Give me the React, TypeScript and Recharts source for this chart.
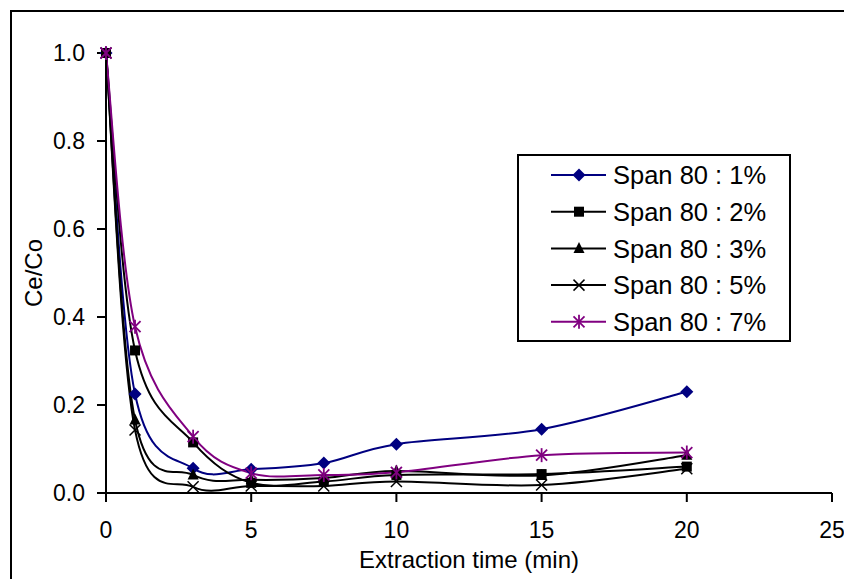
import React from 'react';
import { LineChart, Line, XAxis, YAxis, Label } from 'recharts';

// extraction times (min) and Ce/Co
const times = [0, 1, 3, 5, 7.5, 10, 15, 20];
const span1 = [1.0, 0.225, 0.056, 0.054, 0.068, 0.111, 0.145, 0.23];
const span2 = [1.0, 0.324, 0.115, 0.023, 0.026, 0.041, 0.043, 0.06];
const span3 = [1.0, 0.166, 0.041, 0.03, 0.034, 0.05, 0.04, 0.086];
const span5 = [1.0, 0.143, 0.014, 0.016, 0.016, 0.026, 0.018, 0.055];
const span7 = [1.0, 0.378, 0.128, 0.045, 0.041, 0.047, 0.086, 0.092];

const seriesNames = ['Span 80 : 1%', 'Span 80 : 2%', 'Span 80 : 3%', 'Span 80 : 5%', 'Span 80 : 7%'];
const xTicks = [0, 5, 10, 15, 20, 25];
const yTicks = [0, 0.2, 0.4, 0.6, 0.8, 1.0];

const data = times.map((t, i) => ({
  t,
  s1: span1[i],
  s2: span2[i],
  s3: span3[i],
  s5: span5[i],
  s7: span7[i],
}));

const series = [
  { key: 's1', name: seriesNames[0], color: '#000080', marker: 'diamond' },
  { key: 's2', name: seriesNames[1], color: '#000000', marker: 'square' },
  { key: 's3', name: seriesNames[2], color: '#000000', marker: 'triangle' },
  { key: 's5', name: seriesNames[3], color: '#000000', marker: 'cross' },
  { key: 's7', name: seriesNames[4], color: '#800080', marker: 'star' },
];

const FONT = '"Liberation Sans", Arial, sans-serif';

// Excel-like smoothed line (Catmull-Rom through the points)
function excelSmooth(context: any) {
  let pts: number[][] = [];
  return {
    areaStart() {},
    areaEnd() {},
    lineStart() {
      pts = [];
    },
    point(x: number, y: number) {
      pts.push([+x, +y]);
    },
    lineEnd() {
      const n = pts.length;
      if (!n) return;
      context.moveTo(pts[0][0], pts[0][1]);
      for (let i = 0; i < n - 1; i++) {
        const p0 = pts[Math.max(i - 1, 0)];
        const p1 = pts[i];
        const p2 = pts[i + 1];
        const p3 = pts[Math.min(i + 2, n - 1)];
        context.bezierCurveTo(
          p1[0] + (p2[0] - p0[0]) / 6,
          p1[1] + (p2[1] - p0[1]) / 6,
          p2[0] - (p3[0] - p1[0]) / 6,
          p2[1] - (p3[1] - p1[1]) / 6,
          p2[0],
          p2[1]
        );
      }
    },
  };
}

function Marker({ kind, cx, cy, color }: { kind: string; cx: number; cy: number; color: string }) {
  if (kind === 'diamond') {
    const r = 6.5;
    return <polygon points={`${cx},${cy - r} ${cx + r},${cy} ${cx},${cy + r} ${cx - r},${cy}`} fill={color} />;
  }
  if (kind === 'square') {
    return <rect x={cx - 5} y={cy - 5} width={10} height={10} fill={color} />;
  }
  if (kind === 'triangle') {
    return <polygon points={`${cx},${cy - 6.5} ${cx + 5.5},${cy + 4.5} ${cx - 5.5},${cy + 4.5}`} fill={color} />;
  }
  if (kind === 'cross') {
    const r = 5.5;
    return (
      <g stroke={color} strokeWidth={1.5}>
        <line x1={cx - r} y1={cy - r} x2={cx + r} y2={cy + r} />
        <line x1={cx - r} y1={cy + r} x2={cx + r} y2={cy - r} />
      </g>
    );
  }
  const r = 5.5;
  return (
    <g stroke={color} strokeWidth={1.8}>
      <line x1={cx - r} y1={cy - r} x2={cx + r} y2={cy + r} />
      <line x1={cx - r} y1={cy + r} x2={cx + r} y2={cy - r} />
      <line x1={cx} y1={cy - 7} x2={cx} y2={cy + 7} />
    </g>
  );
}

function LegendBox() {
  return (
    <svg width={274} height={188} style={{ position: 'absolute', left: 517, top: 154 }}>
      <rect x={1} y={1} width={272} height={186} fill="#fff" stroke="#000" strokeWidth={2} />
      {series.map((s, i) => {
        const y = 21 + i * 36.7;
        return (
          <g key={s.key}>
            <line x1={34} y1={y} x2={89} y2={y} stroke={s.color} strokeWidth={2} />
            <Marker kind={s.marker} cx={62} cy={y} color={s.color} />
            <text x={96} y={y} dy="0.36em" fontSize={25.5} fontFamily={FONT} fill="#000">
              {s.name}
            </text>
          </g>
        );
      })}
    </svg>
  );
}

export default function App() {
  const tickStyle = { fill: '#000', fontSize: 23, fontFamily: FONT };
  return (
    <div
      style={{
        position: 'fixed',
        left: 0,
        top: 0,
        width: 844,
        height: 579,
        overflow: 'hidden',
        background: '#fff',
      }}
    >
      <div
        style={{
          position: 'absolute',
          left: 10,
          top: 10,
          width: 1000,
          height: 1000,
          border: '2px solid #000',
        }}
      />
      <div style={{ position: 'absolute', left: 0, top: 0 }}>
        <LineChart width={844} height={579} data={data} margin={{ top: 53, right: 12, bottom: 0, left: 0 }}>
          <XAxis
            dataKey="t"
            type="number"
            domain={[0, 25]}
            ticks={xTicks}
            height={86}
            tick={tickStyle}
            tickSize={9}
            tickMargin={20}
            axisLine={{ stroke: '#000', strokeWidth: 2 }}
            tickLine={{ stroke: '#000', strokeWidth: 2 }}
          >
            <Label
              value="Extraction time (min)"
              position="insideBottom"
              offset={11}
              style={{ fill: '#000', fontSize: 24, fontFamily: FONT }}
            />
          </XAxis>
          <YAxis
            type="number"
            domain={[0, 1]}
            ticks={yTicks}
            width={106}
            tick={tickStyle}
            tickSize={9}
            tickMargin={12}
            tickFormatter={(v: number) => v.toFixed(1)}
            axisLine={{ stroke: '#000', strokeWidth: 2 }}
            tickLine={{ stroke: '#000', strokeWidth: 2 }}
          >
            <Label
              content={() => (
                <text
                  x={42}
                  y={273}
                  transform="rotate(-90 42 273)"
                  textAnchor="middle"
                  fontSize={24}
                  fontFamily={FONT}
                  fill="#000"
                >
                  Ce/Co
                </text>
              )}
            />
          </YAxis>
          {series.map((s) => (
            <Line
              key={s.key}
              dataKey={s.key}
              name={s.name}
              type={excelSmooth as any}
              stroke={s.color}
              strokeWidth={2}
              isAnimationActive={false}
              activeDot={false}
              dot={(p: any) => (
                <Marker key={`${s.key}-${p.index}`} kind={s.marker} cx={p.cx} cy={p.cy} color={s.color} />
              )}
            />
          ))}
        </LineChart>
      </div>
      <LegendBox />
    </div>
  );
}
